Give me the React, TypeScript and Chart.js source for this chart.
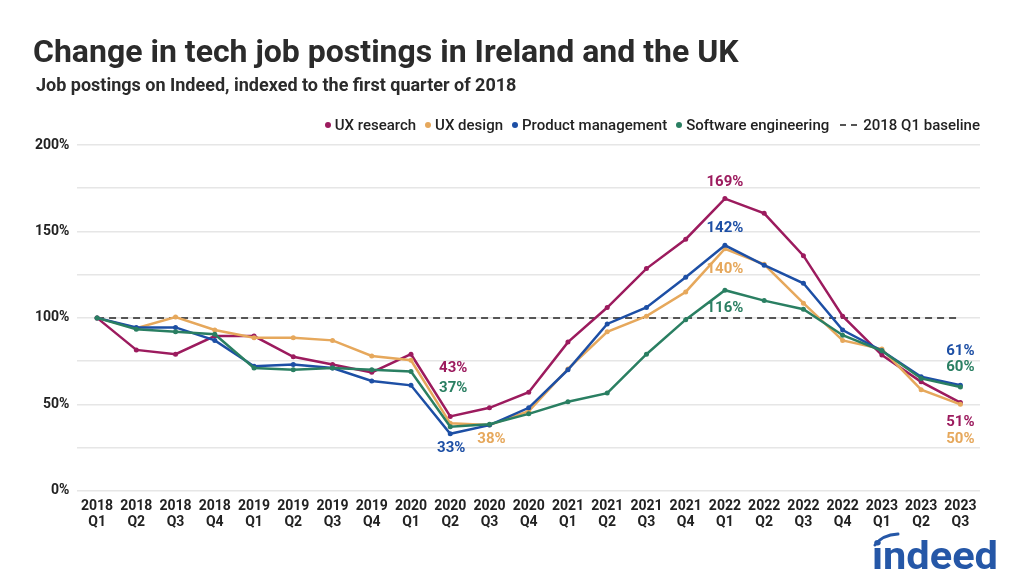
import React, { useEffect, useRef } from "react";
import { Chart, registerables } from "chart.js";

Chart.register(...registerables);

const quarters: string[][] = [
  ["2018", "Q1"], ["2018", "Q2"], ["2018", "Q3"], ["2018", "Q4"],
  ["2019", "Q1"], ["2019", "Q2"], ["2019", "Q3"], ["2019", "Q4"],
  ["2020", "Q1"], ["2020", "Q2"], ["2020", "Q3"], ["2020", "Q4"],
  ["2021", "Q1"], ["2021", "Q2"], ["2021", "Q3"], ["2021", "Q4"],
  ["2022", "Q1"], ["2022", "Q2"], ["2022", "Q3"], ["2022", "Q4"],
  ["2023", "Q1"], ["2023", "Q2"], ["2023", "Q3"],
];

const uxResearch = [100, 81.5, 79, 89.5, 89.5, 77.5, 73, 68.5, 79, 43, 48, 57, 86, 106, 128.5, 145.5, 169, 160.5, 136, 101, 78.5, 63, 51];
const uxDesign = [100, 94, 100.5, 93, 88.5, 88.5, 87, 78, 75.5, 39, 38, 46, 70.5, 92, 101, 115, 140, 131, 108.5, 87, 82, 58.5, 50];
const productManagement = [100, 94.5, 94.5, 87, 72, 73, 71, 63.5, 61, 33, 38, 48, 70, 96.5, 106, 123.5, 142, 130.5, 120, 93, 81, 66, 61];
const softwareEngineering = [100, 93.5, 92, 90.5, 71, 70, 71, 70, 69, 37, 38.5, 44.5, 51.5, 56.5, 79, 99, 116, 110, 105, 90, 81, 65, 60];
const baseline = [100, 100, 100, 100, 100, 100, 100, 100, 100, 100, 100, 100, 100, 100, 100, 100, 100, 100, 100, 100, 100, 100, 100];

const seriesNames = ["UX research", "UX design", "Product management", "Software engineering"];
const seriesColors = ["#9c1b5e", "#e6a85c", "#1d4fa5", "#2a7f62"];
const seriesValues = [uxResearch, uxDesign, productManagement, softwareEngineering];
const baselineName = "2018 Q1 baseline";
const baselineColor = "#555555";

const yTicks = [0, 50, 100, 150, 200];

// value labels: series index, point index, pixel offset of the label from its point
const valueLabels = [
  { s: 0, i: 16, dx: 0, dy: -16 },
  { s: 2, i: 16, dx: 0, dy: -17 },
  { s: 1, i: 16, dx: 0, dy: 21 },
  { s: 3, i: 16, dx: 0, dy: 18 },
  { s: 0, i: 9, dx: 3, dy: -48 },
  { s: 3, i: 9, dx: 3, dy: -39 },
  { s: 2, i: 9, dx: 1, dy: 15 },
  { s: 1, i: 10, dx: 2, dy: 14 },
  { s: 2, i: 22, dx: 0, dy: -34 },
  { s: 3, i: 22, dx: 0, dy: -20 },
  { s: 0, i: 22, dx: 0, dy: 20 },
  { s: 1, i: 22, dx: 0, dy: 35 },
];

const FONT = "Roboto, 'Noto Sans', sans-serif";

const labelPlugin = {
  id: "valueLabels",
  afterDatasetsDraw(chart: any) {
    const ctx = chart.ctx;
    ctx.save();
    ctx.font = `bold 15px ${FONT}`;
    ctx.textAlign = "center";
    ctx.textBaseline = "middle";
    for (const l of valueLabels) {
      const meta = chart.getDatasetMeta(l.s);
      const pt = meta.data[l.i];
      if (!pt) continue;
      const v = seriesValues[l.s][l.i];
      ctx.fillStyle = seriesColors[l.s];
      ctx.fillText(`${Math.round(v)}%`, pt.x + l.dx, pt.y + l.dy);
    }
    ctx.restore();
  },
};

export default function App() {
  const ref = useRef<HTMLCanvasElement | null>(null);

  useEffect(() => {
    if (!ref.current) return;
    const datasets: any[] = seriesValues.map((vals, k) => ({
      label: seriesNames[k],
      data: vals,
      borderColor: seriesColors[k],
      backgroundColor: seriesColors[k],
      borderWidth: 2.5,
      pointRadius: 2.5,
      pointHoverRadius: 2.5,
      pointBorderWidth: 0,
      tension: 0,
      order: 4 - k,
    }));
    datasets.push({
      label: baselineName,
      data: baseline,
      borderColor: baselineColor,
      borderWidth: 2,
      borderDash: [7, 5],
      pointRadius: 0,
      tension: 0,
      order: 10,
    });
    const chart = new Chart(ref.current, {
      type: "line",
      data: { labels: quarters, datasets },
      plugins: [labelPlugin],
      options: {
        animation: false,
        responsive: false,
        devicePixelRatio: 1,
        layout: { padding: { top: 145, left: 27, right: 44, bottom: 37 } },
        plugins: {
          legend: { display: false },
          title: { display: false },
          tooltip: { enabled: false },
        },
        scales: {
          x: {
            offset: true,
            grid: { display: false, drawTicks: false },
            border: { display: false },
            ticks: {
              autoSkip: false,
              maxRotation: 0,
              minRotation: 0,
              padding: 8,
              color: "#222222",
              font: { family: FONT, size: 14, weight: "bold", lineHeight: 1.15 },
            },
          },
          y: {
            min: 0,
            max: 200,
            grid: { color: "#e6e6e6", lineWidth: 1.5, drawTicks: false },
            border: { display: false },
            ticks: {
              stepSize: 25,
              padding: 8,
              color: "#222222",
              font: { family: FONT, size: 14, weight: "bold" },
              callback: (v: any) => (yTicks.includes(Number(v)) ? `${v}%` : ""),
            },
          },
        },
      },
    });
    return () => chart.destroy();
  }, []);

  const legendItems = seriesNames.map((n, k) => (
    <span key={n} style={{ display: "inline-flex", alignItems: "center", marginLeft: k === 0 ? 0 : 9 }}>
      <span style={{ width: 6, height: 6, borderRadius: 3, background: seriesColors[k], display: "inline-block", marginRight: 4 }} />
      {n}
    </span>
  ));

  return (
    <div style={{ position: "absolute", left: 0, top: 0, width: 1024, height: 576, background: "#fff", fontFamily: FONT, color: "#2b2b2b" }}>
      <canvas ref={ref} width={1024} height={576} style={{ position: "absolute", left: 0, top: 0, width: 1024, height: 576 }} />
      <div style={{ position: "absolute", left: 33, top: 33, fontSize: 32, fontWeight: 700, lineHeight: "36px", whiteSpace: "nowrap" }}>
        Change in tech job postings in Ireland and the UK
      </div>
      <div style={{ position: "absolute", left: 36, top: 74, fontSize: 18, fontWeight: 700, lineHeight: "22px", whiteSpace: "nowrap" }}>
        Job postings on Indeed, indexed to the first quarter of 2018
      </div>
      <div style={{ position: "absolute", right: 44, top: 116, fontSize: 15, fontWeight: 500, lineHeight: "18px", whiteSpace: "nowrap", display: "flex", alignItems: "center", color: "#222" }}>
        {legendItems}
        <span style={{ display: "inline-flex", alignItems: "center", marginLeft: 11 }}>
          <svg width="18" height="4" style={{ marginRight: 5 }}>
            <line x1="0" y1="2" x2="18" y2="2" stroke={baselineColor} strokeWidth="2" strokeDasharray="6 5" />
          </svg>
          {baselineName}
        </span>
      </div>
      <svg style={{ position: "absolute", left: 866, top: 530 }} width="140" height="44">
        <path d="M9 15 Q 16 5 32 4" stroke="#2557a7" strokeWidth="3" fill="none" strokeLinecap="round" />
        <text x="6" y="39" fontFamily={FONT} fontWeight="700" fontSize="38" fill="#2557a7" textLength="126" lengthAdjust="spacingAndGlyphs">indeed</text>
      </svg>
    </div>
  );
}
